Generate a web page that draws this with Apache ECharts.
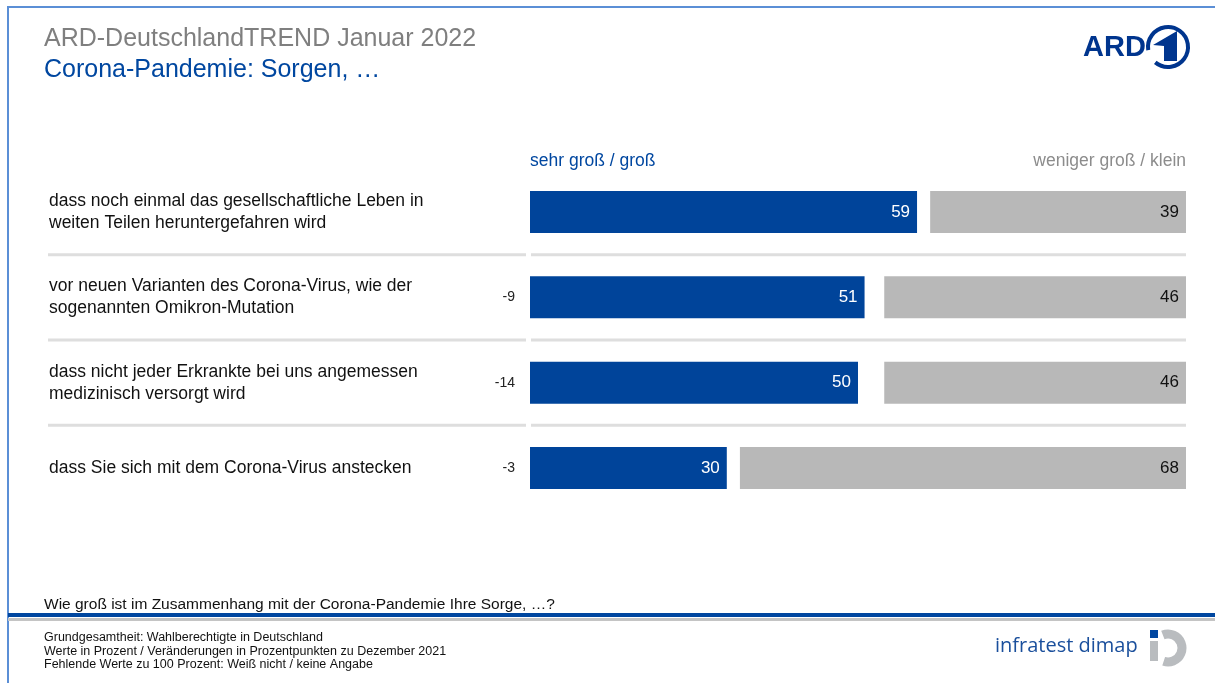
<!DOCTYPE html>
<html>
<head>
<meta charset="utf-8">
<script src="https://cdn.jsdelivr.net/npm/echarts@6/dist/echarts.min.js"></script>
<style>
html,body{margin:0;padding:0;background:#fff;}
#c{width:1215px;height:683px;}
</style>
</head>
<body>
<div id="c"></div>
<script>
var categories = [
  'dass noch einmal das gesellschaftliche Leben in\nweiten Teilen heruntergefahren wird',
  'vor neuen Varianten des Corona-Virus, wie der\nsogenannten Omikron-Mutation',
  'dass nicht jeder Erkrankte bei uns angemessen\nmedizinisch versorgt wird',
  'dass Sie sich mit dem Corona-Virus anstecken'
];
var sehrGross = [59, 51, 50, 30];
var wenigerGross = [39, 46, 46, 68];
var changes = ['', '-9', '-14', '-3'];
var seriesNames = ['sehr groß / groß', 'weniger groß / klein'];
var separators = [0, 1, 2];

var BLUE = '#00449a';
var GRAY = '#b8b8b8';
var FONT = 'Liberation Sans, Arial, sans-serif';

var chart = echarts.init(document.getElementById('c'));

var option = {
  animation: false,
  textStyle: { fontFamily: FONT },
  title: [
    { text: 'ARD-DeutschlandTREND Januar 2022', left: 39, top: 22,
      textStyle: { fontFamily: FONT, fontSize: 25, fontWeight: 'normal', color: '#7f7f7f' } },
    { text: 'Corona-Pandemie: Sorgen, …', left: 39, top: 53,
      textStyle: { fontFamily: FONT, fontSize: 25, fontWeight: 'normal', color: '#0047a0' } },
    { text: seriesNames[0], left: 525, top: 147,
      textStyle: { fontFamily: FONT, fontSize: 17.5, fontWeight: 'normal', color: '#0047a0' } },
    { text: seriesNames[1], right: 24, top: 147,
      textStyle: { fontFamily: FONT, fontSize: 17.5, fontWeight: 'normal', color: '#8c8c8c' } },
    { text: 'Wie groß ist im Zusammenhang mit der Corona-Pandemie Ihre Sorge, …?', left: 39, top: 592,
      textStyle: { fontFamily: FONT, fontSize: 15.5, fontWeight: 'normal', color: '#111' } },
    { text: 'Grundgesamtheit: Wahlberechtigte in Deutschland\nWerte in Prozent / Veränderungen in Prozentpunkten zu Dezember 2021\nFehlende Werte zu 100 Prozent: Weiß nicht / keine Angabe',
      left: 39, top: 626,
      textStyle: { fontFamily: FONT, fontSize: 12.5, lineHeight: 13.5, fontWeight: 'normal', color: '#111' } }
  ],
  grid: { left: 530, right: 29, top: 169.3, bottom: 172.3, containLabel: false },
  xAxis: [
    { type: 'value', min: 0, max: 100, show: false },
    { type: 'value', min: 0, max: 100, show: false, inverse: true }
  ],
  yAxis: [
    { type: 'category', data: categories, inverse: true,
      axisLine: { show: false }, axisTick: { show: false }, splitLine: { show: false },
      axisLabel: { align: 'left', margin: 481, fontSize: 17.5, lineHeight: 22, color: '#111', fontFamily: FONT } },
    { type: 'category', data: categories, inverse: true, position: 'left',
      axisLine: { show: false }, axisTick: { show: false }, splitLine: { show: false },
      axisLabel: { align: 'right', margin: 15, fontSize: 14, color: '#222', fontFamily: FONT,
        formatter: function (v, i) { return changes[i]; } } }
  ],
  series: [
    { name: 'sep', type: 'custom', xAxisIndex: 0, yAxisIndex: 0, silent: true, z: 1,
      data: separators.map(function (i) { return [0, i]; }),
      encode: { x: 0, y: 1 },
      renderItem: function (params, api) {
        var p = api.coord([0, api.value(1)]);
        var band = api.size([0, 1])[1];
        var y = p[1] + band / 2;
        var xEnd = api.coord([100, api.value(1)])[0];
        var st = { stroke: '#dedede', lineWidth: 3 };
        return { type: 'group', children: [
          { type: 'line', shape: { x1: 48, y1: y, x2: p[0] - 4, y2: y }, style: st },
          { type: 'line', shape: { x1: p[0] + 1, y1: y, x2: xEnd, y2: y }, style: st }
        ] };
      }
    },
    { name: seriesNames[0], type: 'bar', xAxisIndex: 0, yAxisIndex: 0, barWidth: 42, z: 2,
      data: sehrGross,
      itemStyle: { color: BLUE },
      label: { show: true, position: 'insideRight', distance: 7, color: '#fff', fontSize: 17, fontFamily: FONT } },
    { name: seriesNames[1], type: 'bar', xAxisIndex: 1, yAxisIndex: 0, barWidth: 42, barGap: '-100%', z: 2,
      data: wenigerGross,
      itemStyle: { color: GRAY },
      label: { show: true, position: 'insideRight', distance: 7, color: '#111', fontSize: 17, fontFamily: FONT } }
  ],
  graphic: [
    { type: 'line', shape: { x1: 8, y1: 7, x2: 1215, y2: 7 }, style: { stroke: '#5b8fd6', lineWidth: 2 } },
    { type: 'line', shape: { x1: 8, y1: 6, x2: 8, y2: 683 }, style: { stroke: '#5b8fd6', lineWidth: 2 } },
    { type: 'line', shape: { x1: 8, y1: 615, x2: 1215, y2: 615 }, style: { stroke: '#0047a0', lineWidth: 4 } },
    { type: 'line', shape: { x1: 8, y1: 619.5, x2: 1215, y2: 619.5 }, style: { stroke: '#c4c4c4', lineWidth: 3 } },
    // ARD logo
    { type: 'text', left: 1083, top: 33, style: { text: 'ARD', font: 'bold 29px ' + FONT, fill: '#00358e' } },
    { type: 'arc', shape: { cx: 1168, cy: 47, r: 20, startAngle: Math.PI * 0.95, endAngle: Math.PI * 0.72, clockwise: true },
      style: { stroke: '#00358e', lineWidth: 4, fill: null } },
    { type: 'polygon', shape: { points: [[1153, 45], [1177, 31], [1177, 61], [1164, 61], [1164, 46]] },
      style: { fill: '#00358e' } },
    // infratest dimap logo
    { type: 'text', left: 995, top: 636, style: { text: 'infratest dimap', font: '20px "Open Sans", sans-serif', fill: '#1a4f9c' } },
    { type: 'rect', shape: { x: 1150, y: 630, width: 8, height: 8 }, style: { fill: '#0047a0' } },
    { type: 'rect', shape: { x: 1150, y: 641, width: 8, height: 20 }, style: { fill: '#b9bcbf' } },
    { type: 'arc', shape: { cx: 1168, cy: 648, r: 14, startAngle: -Math.PI * 0.62, endAngle: Math.PI * 0.6, clockwise: true },
      style: { stroke: '#b9bcbf', lineWidth: 9, fill: null } }
  ]
};
chart.setOption(option);
</script>
</body>
</html>
